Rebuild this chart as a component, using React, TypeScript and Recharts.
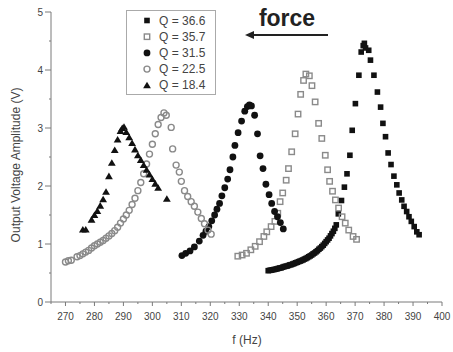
import React from 'react';
import { ScatterChart, Scatter, XAxis, YAxis, Legend } from 'recharts';

// Q = 36.6 (filled squares)
const fQ366 = [340, 340.5, 341, 341.5, 342, 342.5, 343, 343.5, 344, 344.5, 345, 345.5, 346, 346.5, 347, 347.5, 348, 348.5, 349, 349.5, 350, 350.5, 351, 351.5, 352, 352.5, 353, 353.5, 354, 354.5, 355, 355.5, 356, 356.5, 357, 357.5, 358, 358.5, 359, 359.5, 360, 360.5, 361, 361.5, 362, 362.5, 363, 363.5, 364.2, 365.3, 366.3, 367.2, 368.2, 369, 370.1, 371.3, 372.1, 372.8, 373.2, 373.6, 374.7, 375.3, 376.5, 377.7, 378.8, 379.6, 380.5, 381.4, 382.4, 383.4, 384.4, 385.2, 386.1, 386.9, 387.8, 388.6, 389.4, 390.4, 391.3, 392.1];
const vQ366 = [0.54, 0.545, 0.55, 0.555, 0.56, 0.565, 0.57, 0.58, 0.585, 0.59, 0.6, 0.61, 0.615, 0.62, 0.63, 0.64, 0.645, 0.655, 0.665, 0.675, 0.685, 0.695, 0.705, 0.715, 0.725, 0.74, 0.75, 0.765, 0.78, 0.795, 0.81, 0.83, 0.845, 0.865, 0.885, 0.91, 0.93, 0.955, 0.98, 1.01, 1.04, 1.07, 1.1, 1.14, 1.18, 1.22, 1.27, 1.33, 1.52, 1.75, 1.98, 2.21, 2.53, 2.96, 3.42, 3.91, 4.31, 4.42, 4.46, 4.38, 4.34, 4.17, 3.91, 3.62, 3.36, 3.08, 2.85, 2.57, 2.37, 2.17, 2.02, 1.88, 1.76, 1.65, 1.56, 1.47, 1.39, 1.3, 1.21, 1.16];

// Q = 35.7 (open squares)
const fQ357 = [329.5, 331, 332.5, 334, 335.5, 337, 338.5, 339.5, 341, 342.3, 343.3, 344.1, 345, 346.2, 347, 348.1, 349.3, 350.3, 351.2, 352.2, 353, 354.2, 355.1, 356.2, 357.4, 358.5, 359.7, 360.5, 361.2, 362.2, 363.2, 364.3, 365.5, 366.6, 367.8, 369.3, 370.5];
const vQ357 = [0.79, 0.81, 0.84, 0.9, 0.96, 1.04, 1.13, 1.21, 1.3, 1.39, 1.53, 1.73, 1.88, 2.1, 2.3, 2.59, 2.9, 3.24, 3.58, 3.82, 3.93, 3.9, 3.73, 3.45, 3.08, 2.82, 2.53, 2.28, 2.08, 1.91, 1.76, 1.62, 1.47, 1.36, 1.24, 1.13, 1.08];

// Q = 31.5 (filled circles)
const fQ315 = [310.2, 311.5, 313, 314.5, 316.2, 317.5, 318.5, 319.5, 320.5, 321.5, 322.3, 323.2, 324, 325, 326, 326.8, 327.8, 328.5, 329.6, 330.8, 331.9, 332.8, 333.5, 334.2, 335.3, 336.3, 337.2, 338.2, 339.2, 340.3, 341.2, 342.2, 343.2, 344.2, 345.2];
const vQ315 = [0.8, 0.84, 0.88, 0.95, 1.05, 1.15, 1.22, 1.3, 1.4, 1.5, 1.6, 1.7, 1.83, 1.97, 2.12, 2.28, 2.5, 2.7, 2.92, 3.12, 3.29, 3.37, 3.4, 3.38, 3.22, 2.9, 2.52, 2.3, 2.03, 1.85, 1.7, 1.56, 1.47, 1.37, 1.26];

// Q = 22.5 (open circles)
const fQ225 = [270, 271, 272, 274, 275, 276, 277, 278, 279, 280, 281, 282, 283, 284, 285, 286, 287, 288, 289, 290, 291, 292, 293, 294, 295, 296, 297, 298, 299, 300, 301, 302, 303, 304, 304.8, 306.5, 307, 308.2, 309.3, 310, 311.1, 312.2, 313.4, 314.5, 315.7, 316.9, 318, 319.2, 320.3];
const vQ225 = [0.69, 0.71, 0.72, 0.78, 0.8, 0.83, 0.86, 0.89, 0.93, 0.97, 1.0, 1.03, 1.06, 1.1, 1.14, 1.18, 1.23, 1.29, 1.36, 1.43, 1.5, 1.58, 1.68, 1.79, 1.92, 2.06, 2.21, 2.38, 2.55, 2.72, 2.9, 3.06, 3.18, 3.26, 3.22, 3.01, 2.64, 2.36, 2.24, 2.08, 1.92, 1.82, 1.73, 1.65, 1.55, 1.44, 1.35, 1.24, 1.17];

// Q = 18.4 (filled triangles)
const fQ184 = [276, 277, 279, 280, 281, 282, 283, 284, 285, 286, 287, 288, 289, 289.6, 290.2, 291, 292, 293, 294, 295, 296, 297, 298, 299, 300, 301, 302, 305];
const vQ184 = [1.25, 1.25, 1.42, 1.5, 1.57, 1.66, 1.77, 1.9, 2.17, 2.4, 2.62, 2.8, 2.95, 3.0, 3.02, 2.93, 2.84, 2.74, 2.63, 2.53, 2.45, 2.36, 2.28, 2.2, 2.12, 2.04, 1.97, 1.78];

const legendLabels = ['Q = 36.6', 'Q = 35.7', 'Q = 31.5', 'Q = 22.5', 'Q = 18.4'];
const xTicks = [265, 270, 275, 280, 285, 290, 295, 300, 305, 310, 315, 320, 325, 330, 335, 340, 345, 350, 355, 360, 365, 370, 375, 380, 385, 390, 395, 400];
const yTicks = [0, 0.5, 1, 1.5, 2, 2.5, 3, 3.5, 4, 4.5, 5];

const toData = (f: number[], v: number[]) => f.map((x, i) => ({ f: x, v: v[i] }));

const BLACK = '#111';
const GRAY = '#8a8a8a';
const AXIS = '#7a7a7a';
const TXT = '#444';
const FONT = 'Arial, "Liberation Sans", sans-serif';

const FilledSquare = (p: any) => <rect x={p.cx - 2.8} y={p.cy - 2.8} width={5.6} height={5.6} fill={BLACK} />;
const OpenSquare = (p: any) => <rect x={p.cx - 2.7} y={p.cy - 2.7} width={5.4} height={5.4} fill="none" stroke={GRAY} strokeWidth={1.4} />;
const FilledCircle = (p: any) => <circle cx={p.cx} cy={p.cy} r={3.4} fill={BLACK} />;
const OpenCircle = (p: any) => <circle cx={p.cx} cy={p.cy} r={3.0} fill="none" stroke={GRAY} strokeWidth={1.4} />;
const Triangle = (p: any) => (
  <path d={`M${p.cx},${p.cy - 3.6} L${p.cx + 3.9},${p.cy + 3} L${p.cx - 3.9},${p.cy + 3} Z`} fill={BLACK} />
);

const shapes = [FilledSquare, OpenSquare, FilledCircle, OpenCircle, Triangle];

const XTick = (props: any) => {
  const { x, y, payload } = props;
  const major = payload.value % 10 === 0;
  return (
    <g>
      <line x1={x} x2={x} y1={y} y2={y + (major ? 4 : 2)} stroke={AXIS} strokeWidth={1} />
      {major && (
        <text x={x} y={y + 18} textAnchor="middle" fontSize={10} fill={TXT} fontFamily={FONT}>
          {payload.value}
        </text>
      )}
    </g>
  );
};

const YTick = (props: any) => {
  const { x, y, payload } = props;
  const major = Number.isInteger(payload.value);
  return (
    <g>
      <line x1={x} x2={x - (major ? 6 : 2)} y1={y} y2={y} stroke={AXIS} strokeWidth={1} />
      {major && (
        <text x={x - 8} y={y + 3.5} textAnchor="end" fontSize={10} fill={TXT} fontFamily={FONT}>
          {payload.value}
        </text>
      )}
    </g>
  );
};

const LegendBox = () => (
  <svg width={90} height={85} style={{ display: 'block' }}>
    <rect x={0.5} y={0.5} width={89} height={84} fill="white" stroke="#aaa" strokeWidth={1} />
    {legendLabels.map((lab, i) => {
      const cy = 10.5 + i * 16.2;
      const Shape = shapes[i];
      return (
        <g key={lab}>
          <Shape cx={21} cy={cy} />
          <text x={33} y={cy + 4} fontSize={12} fill={TXT} fontFamily={FONT}>
            {lab}
          </text>
        </g>
      );
    })}
  </svg>
);

export default function App() {
  const series = [
    { name: legendLabels[0], data: toData(fQ366, vQ366), shape: FilledSquare },
    { name: legendLabels[1], data: toData(fQ357, vQ357), shape: OpenSquare },
    { name: legendLabels[2], data: toData(fQ315, vQ315), shape: FilledCircle },
    { name: legendLabels[3], data: toData(fQ225, vQ225), shape: OpenCircle },
    { name: legendLabels[4], data: toData(fQ184, vQ184), shape: Triangle },
  ];
  return (
    <div style={{ position: 'absolute', left: 0, top: 0, width: 453, height: 352, background: 'white' }}>
      <ScatterChart width={453} height={352} margin={{ top: 12, right: 11, bottom: 0, left: 0 }}>
        <XAxis
          type="number"
          dataKey="f"
          domain={[265, 400]}
          ticks={xTicks}
          interval={0}
          height={50}
          tickSize={0}
          tickMargin={0}
          tickLine={false}
          axisLine={{ stroke: AXIS, strokeWidth: 1 }}
          tick={<XTick />}
          allowDataOverflow
        />
        <YAxis
          type="number"
          dataKey="v"
          domain={[0, 5]}
          ticks={yTicks}
          interval={0}
          width={51}
          tickSize={0}
          tickMargin={0}
          tickLine={false}
          axisLine={{ stroke: AXIS, strokeWidth: 1 }}
          tick={<YTick />}
          allowDataOverflow
        />
        <Legend
          layout="horizontal"
          verticalAlign="middle"
          align="center"
          content={() => <LegendBox />}
          wrapperStyle={{ left: 126, top: 10, width: 90, height: 85 }}
        />
        {series.map((s) => (
          <Scatter key={s.name} name={s.name} data={s.data} shape={s.shape} isAnimationActive={false} />
        ))}
      </ScatterChart>
      <svg width={453} height={352} style={{ position: 'absolute', left: 0, top: 0, pointerEvents: 'none' }}>
        <text x={287} y={26} textAnchor="middle" fontSize={23} fontWeight="bold" fill="#222" fontFamily={FONT}>
          force
        </text>
        <line x1={328} y1={35} x2={250} y2={35} stroke="#222" strokeWidth={2} />
        <path d="M245,35 L254,31 L254,39 Z" fill="#222" />
        <text x={247} y={344} textAnchor="middle" fontSize={12} fill={TXT} fontFamily={FONT}>
          f (Hz)
        </text>
        <text
          x={0}
          y={0}
          transform="translate(20,165) rotate(-90)"
          textAnchor="middle"
          fontSize={12}
          fill={TXT}
          fontFamily={FONT}
        >
          Output Voltage Amplitude (V)
        </text>
      </svg>
    </div>
  );
}
